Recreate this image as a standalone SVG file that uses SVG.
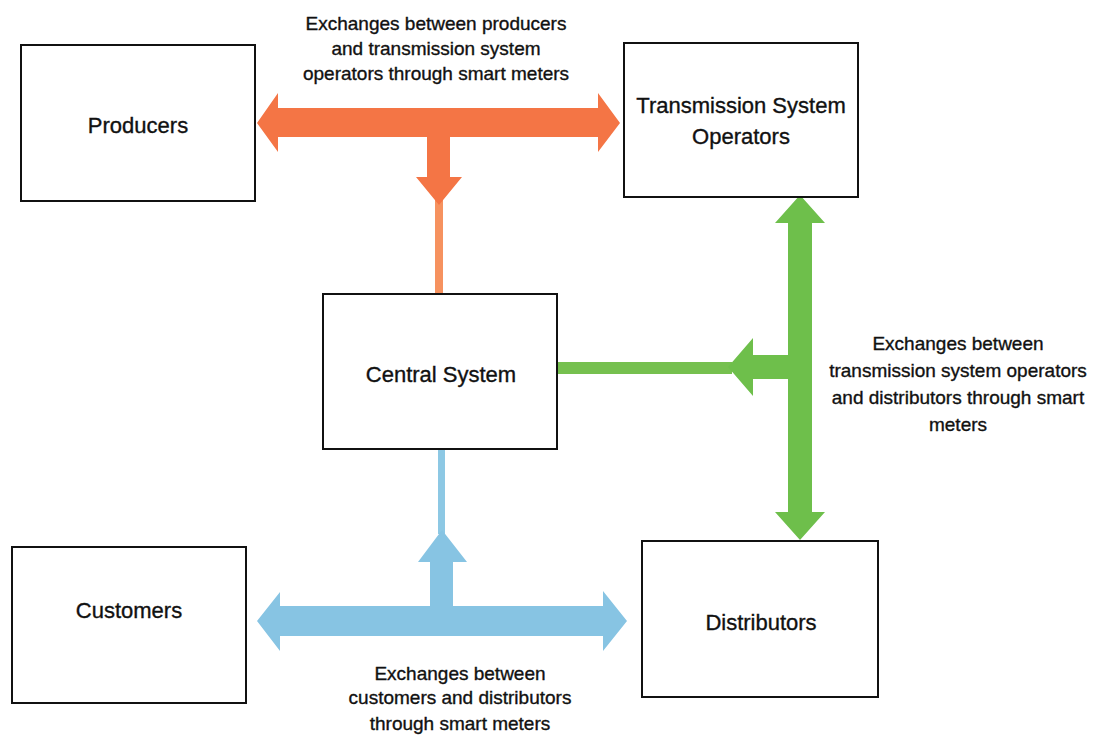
<svg xmlns="http://www.w3.org/2000/svg" width="1096" height="739" viewBox="0 0 1096 739">
<style>
.box{fill:#fff;stroke:#111;stroke-width:2}
.t{font-family:"Liberation Sans",Arial,sans-serif;fill:#111;stroke:#111;stroke-width:0.35;text-anchor:middle}
.bt{font-size:22px}
.lt{font-size:19px}
</style>
<rect width="1096" height="739" fill="#fff"/>
<g id="connectors">
  <rect x="435" y="200" width="8" height="94" fill="#F6925F"/>
  <polygon fill="#F47545" points="257,123 278,93 278,108 598,108 598,93 620,123 598,152 598,137 450,137 450,177 462,177 439,205 416,177 427,177 427,137 278,137 278,152"/>
  <rect x="557" y="362" width="175" height="12" fill="#76C04F"/>
  <polygon fill="#6EBF4B" points="800,195 825,223 812,223 812,512 825,512 800,540 775,512 788,512 788,379 753,379 753,396 728,367 753,338 753,355 788,355 788,223 775,223"/>
  <rect x="438" y="449" width="7" height="85" fill="#8DC8E4"/>
  <polygon fill="#87C4E3" points="257,621 280,592 280,606 430,606 430,562 418,562 442,530 467,562 453,562 453,606 603,606 603,591 627,621 603,651 603,636 280,636 280,651"/>
</g>
<g id="producers">
  <rect class="box" x="21" y="45" width="234" height="156"/>
  <text class="t bt" x="138" y="133">Producers</text>
</g>
<g id="tso">
  <rect class="box" x="624" y="43" width="234" height="154"/>
  <text class="t bt" x="741" y="113">Transmission System</text>
  <text class="t bt" x="741" y="144">Operators</text>
</g>
<g id="central">
  <rect class="box" x="323" y="294" width="234" height="155"/>
  <text class="t bt" x="441" y="382">Central System</text>
</g>
<g id="customers">
  <rect class="box" x="12" y="547" width="234" height="156"/>
  <text class="t bt" x="129" y="618">Customers</text>
</g>
<g id="distributors">
  <rect class="box" x="642" y="541" width="236" height="156"/>
  <text class="t bt" x="761" y="630">Distributors</text>
</g>
<g id="label-top">
  <text class="t lt" x="436" y="30">Exchanges between producers</text>
  <text class="t lt" x="436" y="55">and transmission system</text>
  <text class="t lt" x="436" y="80">operators through smart meters</text>
</g>
<g id="label-right">
  <text class="t lt" x="958" y="350">Exchanges between</text>
  <text class="t lt" x="958" y="377">transmission system operators</text>
  <text class="t lt" x="958" y="404">and distributors through smart</text>
  <text class="t lt" x="958" y="431">meters</text>
</g>
<g id="label-bottom">
  <text class="t lt" x="460" y="680">Exchanges between</text>
  <text class="t lt" x="460" y="704">customers and distributors</text>
  <text class="t lt" x="460" y="730">through smart meters</text>
</g>
</svg>
